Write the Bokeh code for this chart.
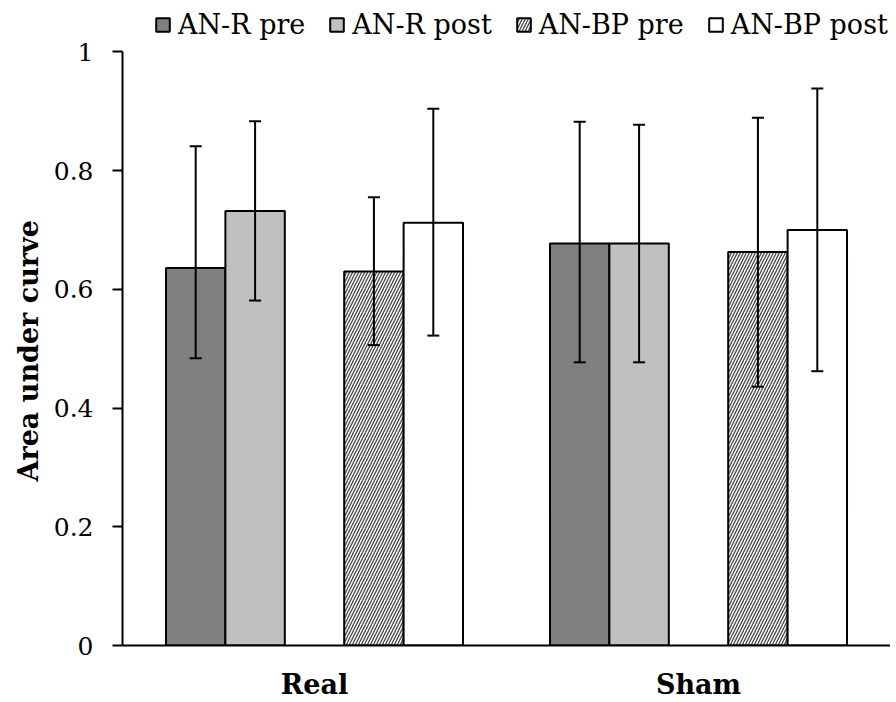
from bokeh.plotting import figure
from bokeh.models import FactorRange, ColumnDataSource, Whisker, Legend, LegendItem, FixedTicker, Title
from bokeh.transform import dodge
from bokeh.embed import file_html
from bokeh.resources import INLINE

categories = ["Real", "Sham"]
series_names = ["AN-R pre", "AN-R post", "AN-BP pre", "AN-BP post"]

an_r_pre = [0.636, 0.677]
an_r_pre_upper = [0.841, 0.882]
an_r_pre_lower = [0.484, 0.477]

an_r_post = [0.732, 0.677]
an_r_post_upper = [0.883, 0.877]
an_r_post_lower = [0.581, 0.477]

an_bp_pre = [0.630, 0.663]
an_bp_pre_upper = [0.755, 0.889]
an_bp_pre_lower = [0.506, 0.436]

an_bp_post = [0.712, 0.700]
an_bp_post_upper = [0.904, 0.938]
an_bp_post_lower = [0.522, 0.462]

y_ticks = [0, 0.2, 0.4, 0.6, 0.8, 1.0]
y_tick_labels = ["0", "0.2", "0.4", "0.6", "0.8", "1"]
y_title = "Area under curve"

SERIF = "DejaVu Serif"
slot = 0.1547
offsets = [-2 * slot, -slot, slot, 2 * slot]
fills = ["#808080", "#C0C0C0", "#FFFFFF", "#FFFFFF"]
hatches = [None, None, "/", None]
LW = 2

# extra headroom above 1 holds the legend; the axis itself stops at 1
p = figure(x_range=FactorRange(factors=categories, range_padding=0, factor_padding=0),
           y_range=(0, 1.078), width=890, height=702,
           output_backend="svg", toolbar_location=None,
           min_border_left=122, min_border_right=0, min_border_top=5, min_border_bottom=54)
p.outline_line_color = None
p.grid.visible = False
p.background_fill_color = "white"

series = [
    (an_r_pre, an_r_pre_upper, an_r_pre_lower),
    (an_r_post, an_r_post_upper, an_r_post_lower),
    (an_bp_pre, an_bp_pre_upper, an_bp_pre_lower),
    (an_bp_post, an_bp_post_upper, an_bp_post_lower),
]

items = []
for i, (vals, up, lo) in enumerate(series):
    src = ColumnDataSource(dict(cat=categories, val=vals, upper=up, lower=lo))
    kw = dict(x=dodge("cat", offsets[i], range=p.x_range), top="val", width=slot,
              source=src, fill_color=fills[i], line_color="black", line_width=LW)
    if hatches[i]:
        kw.update(hatch_pattern=hatches[i], hatch_color="#444444", hatch_scale=6, hatch_weight=1.3)
    r = p.vbar(**kw)
    items.append(LegendItem(label=series_names[i], renderers=[r]))
    w = Whisker(base=dodge("cat", offsets[i], range=p.x_range), upper="upper", lower="lower",
                source=src, line_color="black", line_width=LW, level="annotation")
    for h in (w.upper_head, w.lower_head):
        h.size = 12
        h.line_width = LW
    p.add_layout(w)

legend = Legend(items=items, orientation="horizontal", location=(32, 605),
                label_text_font=SERIF, label_text_font_size="27px", label_text_color="black",
                glyph_width=17, glyph_height=17, label_standoff=7, spacing=23,
                padding=0, margin=0, border_line_color=None, background_fill_alpha=0)
p.add_layout(legend)

ya = p.yaxis[0]
ya.ticker = FixedTicker(ticks=y_ticks)
ya.bounds = (0, 1)
ya.major_label_overrides = {t: l for t, l in zip(y_ticks, y_tick_labels)}
ya.minor_tick_line_color = None
ya.major_tick_in = 0
ya.major_tick_out = 10
ya.major_tick_line_width = LW
ya.axis_line_width = LW
ya.major_label_text_font = SERIF
ya.major_label_text_font_size = "25px"
ya.major_label_text_color = "black"
ya.major_label_standoff = 19

t = Title(text=y_title, align="left", offset=164, standoff=14,
          text_font=SERIF, text_font_style="bold", text_font_size="27px", text_color="black")
p.add_layout(t, "left")

xa = p.xaxis[0]
xa.major_tick_line_color = None
xa.minor_tick_line_color = None
xa.major_tick_out = 0
xa.major_tick_in = 0
xa.axis_line_width = LW
xa.major_label_text_font = SERIF
xa.major_label_text_font_style = "bold"
xa.major_label_text_font_size = "27px"
xa.major_label_text_color = "black"
xa.major_label_standoff = 23

open("out.html", "w").write(file_html(p, INLINE))
